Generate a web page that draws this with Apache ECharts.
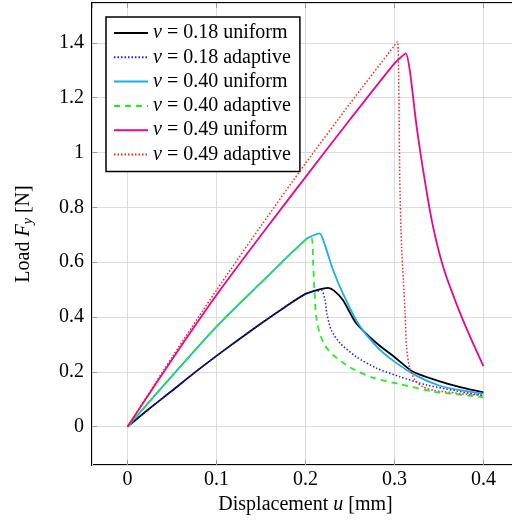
<!DOCTYPE html>
<html>
<head>
<meta charset="utf-8">
<script src="https://cdn.jsdelivr.net/npm/echarts@6/dist/echarts.min.js"></script>
<style>
  html, body { margin: 0; padding: 0; background: #fff; }
  #chart { width: 512px; height: 530px; }
</style>
</head>
<body>
<div id="chart"></div>
<script>
var seriesNames = ['ν = 0.18 uniform', 'ν = 0.18 adaptive', 'ν = 0.40 uniform',
  'ν = 0.40 adaptive', 'ν = 0.49 uniform', 'ν = 0.49 adaptive']

// displacement u [mm] and load Fy [N]
var u018uni = [0, 0.025, 0.05, 0.075, 0.1, 0.125, 0.15, 0.175, 0.2, 0.215, 0.2254, 0.232, 0.242, 0.257, 0.28, 0.3, 0.321, 0.35, 0.375, 0.4]
var f018uni = [0, 0.067, 0.131, 0.196, 0.258, 0.318, 0.376, 0.432, 0.484, 0.5, 0.506, 0.496, 0.462, 0.377, 0.304, 0.254, 0.2, 0.166, 0.143, 0.125]

var u018ada = [0, 0.025, 0.05, 0.075, 0.1, 0.125, 0.15, 0.175, 0.2, 0.212, 0.218, 0.222, 0.224, 0.229, 0.239, 0.257, 0.28, 0.306, 0.336, 0.37, 0.4]
var f018ada = [0, 0.067, 0.131, 0.196, 0.258, 0.318, 0.376, 0.432, 0.484, 0.494, 0.497, 0.462, 0.413, 0.352, 0.304, 0.255, 0.213, 0.182, 0.152, 0.13, 0.113]

var u040uni = [0, 0.05, 0.1, 0.15, 0.2, 0.21, 0.216, 0.222, 0.231, 0.242, 0.259, 0.28, 0.3, 0.325, 0.35, 0.375, 0.4]
var f040uni = [0, 0.185, 0.365, 0.525, 0.682, 0.699, 0.705, 0.66, 0.571, 0.486, 0.377, 0.292, 0.237, 0.185, 0.15, 0.132, 0.12]

var u040ada = [0, 0.05, 0.1, 0.15, 0.2, 0.2067, 0.2086, 0.21, 0.212, 0.216, 0.222, 0.231, 0.25, 0.276, 0.306, 0.343, 0.37, 0.4]
var f040ada = [0, 0.185, 0.365, 0.525, 0.68, 0.687, 0.596, 0.5, 0.401, 0.34, 0.295, 0.261, 0.216, 0.178, 0.155, 0.128, 0.118, 0.107]

var u049uni = [0, 0.05, 0.1, 0.15, 0.2, 0.25, 0.3, 0.309, 0.3127, 0.3172, 0.3247, 0.334, 0.343, 0.355, 0.37, 0.385, 0.4]
var f049uni = [0, 0.245, 0.48, 0.698, 0.91, 1.12, 1.325, 1.352, 1.361, 1.3, 1.1, 0.9, 0.735, 0.58, 0.445, 0.328, 0.221]

var u049ada = [0, 0.05, 0.1, 0.15, 0.2, 0.25, 0.3, 0.3034, 0.305, 0.306, 0.308, 0.31, 0.312, 0.3135, 0.317, 0.323, 0.332, 0.345, 0.362, 0.38, 0.4]
var f049ada = [0, 0.253, 0.498, 0.732, 0.96, 1.178, 1.39, 1.404, 1.2, 0.9, 0.656, 0.535, 0.413, 0.292, 0.215, 0.17, 0.145, 0.132, 0.125, 0.118, 0.115]

var xs = [u018uni, u018ada, u040uni, u040ada, u049uni, u049ada]
var ys = [f018uni, f018ada, f040uni, f040ada, f049uni, f049ada]
var colors = ['#000000', '#1a1aff', '#1aaee6', '#22ee22', '#e6088c', '#ff2020']
var dashes = ['solid', [1.5, 2], 'solid', [6, 5], 'solid', [1.5, 2]]

var serif = 'Liberation Serif'

function pairs(a, b) {
  return a.map(function(v, i) { return [v, b[i]] })
}

var chart = echarts.init(document.getElementById('chart'), null, { renderer: 'canvas' })

var series = seriesNames.map(function(name, k) {
  return {
    name: name,
    type: 'line',
    data: pairs(xs[k], ys[k]),
    symbol: 'none',
    smooth: 0.25,
    xAxisIndex: 0,
    yAxisIndex: 0,
    lineStyle: { color: colors[k], width: k === 1 || k === 5 ? 1.5 : 1.8, type: dashes[k] },
    itemStyle: { color: colors[k] },
    z: 2 + k
  }
})

var tickStyle = { show: true, inside: true, length: 5, lineStyle: { color: '#999', width: 1 } }

var option = {
  animation: false,
  grid: {
    left: 92, top: 3, width: 427, height: 462,
    show: true, borderColor: '#000', borderWidth: 2,
    outerBoundsMode: 'none'
  },
  legend: {
    orient: 'vertical',
    left: 106, top: 17,
    data: seriesNames,
    backgroundColor: '#fff',
    borderColor: '#000', borderWidth: 1.5,
    padding: [6, 9, 7, 7],
    itemWidth: 34, itemHeight: 14, itemGap: 4.3,
    itemStyle: { color: 'transparent', borderColor: 'transparent', borderWidth: 0 },
    formatter: function(name) { return name.replace('ν', '{i|ν}') },
    textStyle: {
      fontFamily: serif, fontSize: 20, color: '#000', lineHeight: 20,
      rich: { i: { fontFamily: serif, fontSize: 20, fontStyle: 'italic', color: '#000' } }
    }
  },
  xAxis: [
    {
      type: 'value', min: -0.04, max: 0.44, splitNumber: 5,
      name: '{t|Displacement }{i|u}{t| [mm]}',
      nameLocation: 'middle', nameGap: 27,
      nameTextStyle: {
        rich: {
          t: { fontFamily: serif, fontSize: 20, color: '#000' },
          i: { fontFamily: serif, fontSize: 20, fontStyle: 'italic', color: '#000' }
        }
      },
      axisLine: { show: false, onZero: false },
      axisTick: tickStyle,
      axisLabel: { fontFamily: serif, fontSize: 20, color: '#000', margin: 5, showMinLabel: false, showMaxLabel: false },
      splitLine: { show: true, lineStyle: { color: '#dcdcdc', width: 1 } }
    },
    {
      type: 'value', position: 'top', min: -0.04, max: 0.44, splitNumber: 5,
      axisLine: { show: false, onZero: false },
      axisTick: tickStyle,
      axisLabel: { show: false },
      splitLine: { show: false }
    }
  ],
  yAxis: {
    type: 'value', min: -0.14, max: 1.545, splitNumber: 8,
    name: '{t|Load }{i|F}{s|y}{t| [N]}',
    nameLocation: 'middle', nameGap: 57, nameRotate: 90,
    nameTextStyle: {
      rich: {
        t: { fontFamily: serif, fontSize: 20, color: '#000' },
        i: { fontFamily: serif, fontSize: 20, fontStyle: 'italic', color: '#000' },
        s: { fontFamily: serif, fontSize: 14, fontStyle: 'italic', color: '#000', padding: [8, 0, 0, 0] }
      }
    },
    axisLine: { show: false, onZero: false },
    axisTick: tickStyle,
    axisLabel: { fontFamily: serif, fontSize: 20, color: '#000', margin: 8, showMinLabel: false, showMaxLabel: false },
    splitLine: { show: true, lineStyle: { color: '#dcdcdc', width: 1 } }
  },
  series: series
}

chart.setOption(option)
</script>
</body>
</html>
